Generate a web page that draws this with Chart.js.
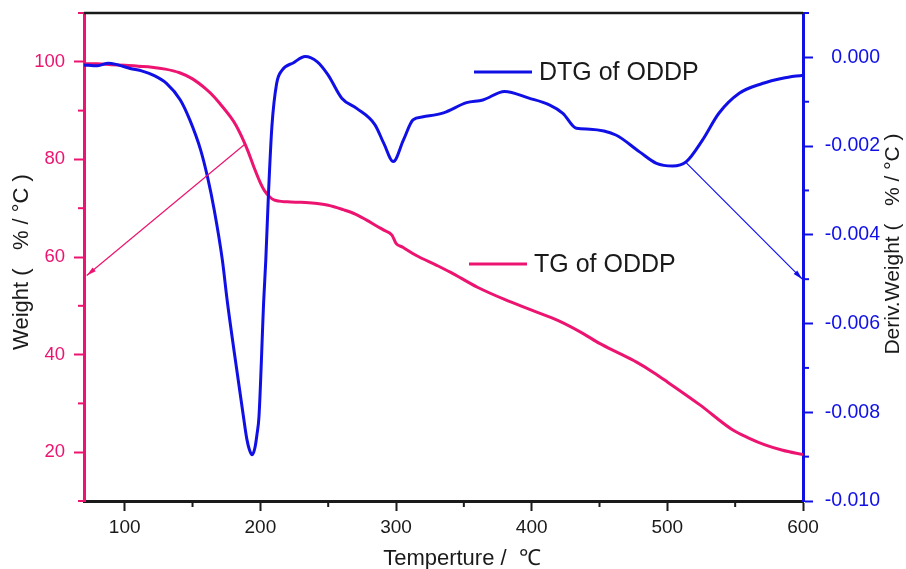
<!DOCTYPE html>
<html>
<head>
<meta charset="utf-8">
<script src="https://cdn.jsdelivr.net/npm/chart.js@4.4.1/dist/chart.umd.min.js"></script>
<style>
  html, body { margin: 0; padding: 0; background: #fff; }
  canvas { display: block; }
</style>
</head>
<body>
<canvas id="tga" width="906" height="569"></canvas>
<script>
// TG curve (weight %, left axis)
const tgTemp   = [70, 80, 90, 100, 110, 120, 130, 140, 150, 160, 166, 170, 178, 182, 188, 191, 195, 200, 203, 207, 210, 220, 230, 240, 250, 261, 270, 278, 286, 291, 297, 300, 305, 315, 330, 340, 360, 380, 400, 420, 438, 450, 465, 477, 490, 500, 524, 548, 560, 572, 585, 600];
const tgWeight = [99.6, 99.6, 99.4, 99.3, 99.1, 98.9, 98.5, 97.8, 96.5, 94.4, 92.8, 91.5, 88.7, 87.0, 83.6, 81.6, 78.6, 75.2, 73.6, 72.3, 71.7, 71.3, 71.2, 71.0, 70.6, 69.7, 68.8, 67.6, 66.3, 65.5, 64.5, 62.8, 62.0, 60.3, 58.3, 56.9, 53.8, 51.3, 49.1, 46.9, 44.3, 42.3, 40.2, 38.5, 36.3, 34.4, 29.7, 24.6, 22.9, 21.5, 20.4, 19.5];

// DTG curve (deriv. weight %/°C, right axis)
const dtgTemp  = [70, 80, 88, 95, 104, 113, 121, 131, 141, 148, 156, 161, 166, 172, 175.5, 180.5, 187.5, 190, 192, 194, 196, 197.5, 199, 202.5, 204, 206, 208.5, 212, 216, 224.5, 233, 242, 250, 260, 271, 284.5, 291, 298, 305.5, 312.5, 320, 335, 352, 364, 380, 398, 413, 423, 433, 443, 462, 479.5, 492, 504, 514, 526, 538, 553, 570, 585, 600];
const dtgDeriv = [-0.00017, -0.00019, -0.00013, -0.00017, -0.00025, -0.00031, -0.00040, -0.00059, -0.00096, -0.00141, -0.00209, -0.00269, -0.00344, -0.00457, -0.00547, -0.00659, -0.00809, -0.00860, -0.00885, -0.00896, -0.00880, -0.00850, -0.00809, -0.00547, -0.00457, -0.00306, -0.00156, -0.00059, -0.00029, -0.00012, 0.00002, -0.00010, -0.00040, -0.00092, -0.00115, -0.00152, -0.00194, -0.00235, -0.00186, -0.00141, -0.00134, -0.00125, -0.00102, -0.00096, -0.00077, -0.00092, -0.00107, -0.00126, -0.00160, -0.00162, -0.00175, -0.00213, -0.00239, -0.00245, -0.00235, -0.00186, -0.00126, -0.00081, -0.00059, -0.00047, -0.00040];

// ticks
const tempTicks   = [100, 200, 300, 400, 500, 600];
const tempMinor   = [150, 250, 350, 450, 550];
const weightTicks = [20, 40, 60, 80, 100];
const weightMinor = [10, 30, 50, 70, 90, 110];
const derivTicks  = [-0.010, -0.008, -0.006, -0.004, -0.002, 0.000];
const derivMinor  = [-0.009, -0.007, -0.005, -0.003, -0.001, 0.001];

const pink = '#ec1470';
const blue = '#1010e6';
const ink  = '#1a1a1a';
const family = "'Liberation Sans', Arial, sans-serif";

Chart.defaults.font.family = family;

const toPoints = (xs, ys) => xs.map((t, i) => ({ x: t, y: ys[i] }));

// extra drawing: top frame, minor ticks, arrows, legend, axis titles
const decor = {
  id: 'decor',
  afterDraw(chart) {
    const { ctx, chartArea: a, scales: { x, y, y2 } } = chart;
    ctx.save();

    ctx.strokeStyle = ink;
    ctx.lineWidth = 2.5;
    ctx.beginPath();
    ctx.moveTo(a.left, a.top);
    ctx.lineTo(a.right, a.top);
    ctx.stroke();

    ctx.lineWidth = 2;
    ctx.strokeStyle = pink;
    weightMinor.forEach(v => {
      const p = y.getPixelForValue(v);
      ctx.beginPath(); ctx.moveTo(a.left - 6, p); ctx.lineTo(a.left, p); ctx.stroke();
    });
    ctx.strokeStyle = blue;
    derivMinor.forEach(v => {
      const p = y2.getPixelForValue(v);
      ctx.beginPath(); ctx.moveTo(a.right, p); ctx.lineTo(a.right + 6, p); ctx.stroke();
    });
    ctx.strokeStyle = ink;
    tempMinor.forEach(v => {
      const p = x.getPixelForValue(v);
      ctx.beginPath(); ctx.moveTo(p, a.bottom); ctx.lineTo(p, a.bottom + 6); ctx.stroke();
    });

    // arrows pointing to the axis each curve belongs to
    const arrow = (x0, y0, x1, y1, col) => {
      const ang = Math.atan2(y1 - y0, x1 - x0);
      ctx.strokeStyle = col;
      ctx.fillStyle = col;
      ctx.lineWidth = 1.2;
      ctx.beginPath(); ctx.moveTo(x0, y0); ctx.lineTo(x1, y1); ctx.stroke();
      ctx.beginPath();
      ctx.moveTo(x1, y1);
      ctx.lineTo(x1 - 10 * Math.cos(ang - 0.25), y1 - 10 * Math.sin(ang - 0.25));
      ctx.lineTo(x1 - 10 * Math.cos(ang + 0.25), y1 - 10 * Math.sin(ang + 0.25));
      ctx.closePath();
      ctx.fill();
    };
    arrow(x.getPixelForValue(189), y.getPixelForValue(83.2),
          x.getPixelForValue(72), y.getPixelForValue(56.2), pink);
    arrow(x.getPixelForValue(514), y2.getPixelForValue(-0.00238),
          x.getPixelForValue(599.5), y2.getPixelForValue(-0.0050), blue);

    // legend entries inside the plot
    ctx.font = '25px ' + family;
    ctx.textBaseline = 'middle';
    ctx.textAlign = 'left';
    ctx.lineWidth = 3;
    ctx.strokeStyle = blue;
    ctx.beginPath(); ctx.moveTo(474, 72); ctx.lineTo(532, 72); ctx.stroke();
    ctx.fillStyle = ink;
    ctx.fillText('DTG of ODDP', 539, 73);
    ctx.strokeStyle = pink;
    ctx.beginPath(); ctx.moveTo(469, 264); ctx.lineTo(527, 264); ctx.stroke();
    ctx.fillText('TG of ODDP', 534, 265);

    // axis titles
    ctx.textAlign = 'center';
    ctx.font = '22px ' + family;
    ctx.fillText('Temperture /  ℃', 462, 559);

    ctx.save();
    ctx.translate(22, 262);
    ctx.rotate(-Math.PI / 2);
    ctx.fillText('Weight (   % / °C )', 0, 0);
    ctx.restore();

    ctx.save();
    ctx.translate(893, 244);
    ctx.rotate(-Math.PI / 2);
    ctx.font = '21px ' + family;
    ctx.fillText('Deriv.Weight (   % / °C )', 0, 0);
    ctx.restore();

    ctx.restore();
  }
};

const noPad = s => { s.paddingTop = 0; s.paddingBottom = 0; };

new Chart(document.getElementById('tga'), {
  type: 'line',
  data: {
    datasets: [
      {
        label: 'DTG of ODDP',
        data: toPoints(dtgTemp, dtgDeriv),
        yAxisID: 'y2',
        borderColor: blue,
        borderWidth: 3,
        pointRadius: 0,
        cubicInterpolationMode: 'monotone'
      },
      {
        label: 'TG of ODDP',
        data: toPoints(tgTemp, tgWeight),
        yAxisID: 'y',
        borderColor: pink,
        borderWidth: 3,
        pointRadius: 0,
        cubicInterpolationMode: 'monotone'
      }
    ]
  },
  options: {
    responsive: false,
    animation: false,
    layout: { padding: { top: 13, left: 0, right: 26, bottom: 0 } },
    plugins: {
      legend: { display: false },
      tooltip: { enabled: false }
    },
    scales: {
      x: {
        type: 'linear',
        position: 'bottom',
        min: 70,
        max: 600,
        afterBuildTicks: s => { s.ticks = tempTicks.map(v => ({ value: v })); },
        afterFit: s => { s.height = 68; s.paddingLeft = 0; s.paddingRight = 0; },
        ticks: { color: ink, font: { size: 19 }, padding: 5, maxRotation: 0 },
        grid: { drawOnChartArea: false, tickLength: 10, tickColor: ink, tickWidth: 2 },
        border: { color: ink, width: 3 }
      },
      y: {
        position: 'left',
        min: 10,
        max: 110,
        afterBuildTicks: s => { s.ticks = weightTicks.map(v => ({ value: v })); },
        afterFit: s => { s.width = 84; noPad(s); },
        ticks: { color: pink, font: { size: 18.5 }, padding: 9 },
        grid: { drawOnChartArea: false, tickLength: 10, tickColor: pink, tickWidth: 2 },
        border: { color: pink, width: 3 }
      },
      y2: {
        position: 'right',
        min: -0.010,
        max: 0.001,
        afterBuildTicks: s => { s.ticks = derivTicks.map(v => ({ value: v })); },
        afterFit: s => { s.width = 77; noPad(s); },
        ticks: {
          color: blue,
          font: { size: 19.5 },
          padding: 10,
          crossAlign: 'far',
          callback: v => v.toFixed(3)
        },
        grid: { drawOnChartArea: false, tickLength: 10, tickColor: blue, tickWidth: 2 },
        border: { color: blue, width: 3 }
      }
    }
  },
  plugins: [decor]
});
</script>
</body>
</html>
